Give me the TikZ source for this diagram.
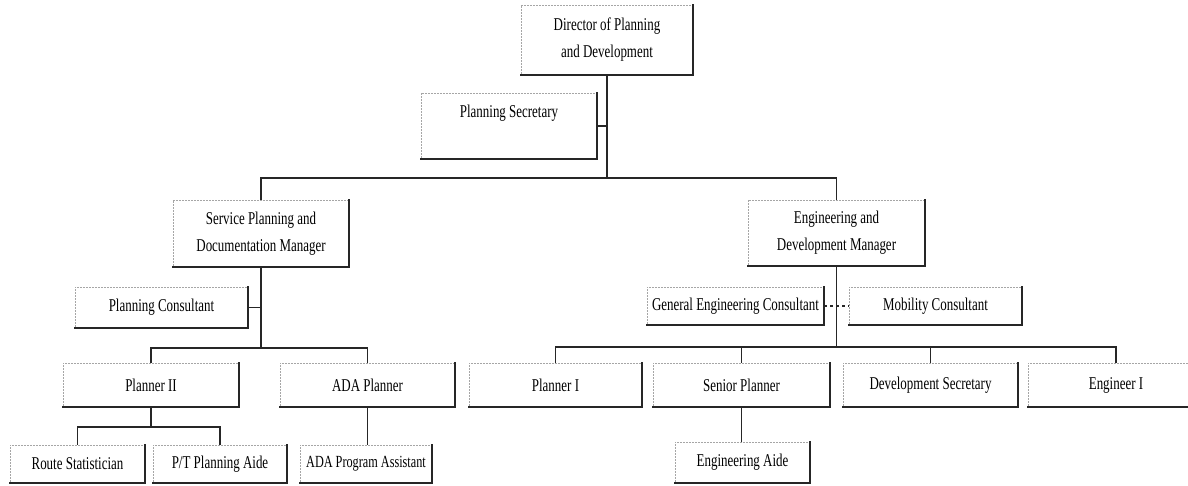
\documentclass[tikz,border=0pt]{standalone}
\usepackage{fontspec}
\setmainfont{Liberation Serif}[FakeStretch=0.72]
\begin{document}
\begin{tikzpicture}[x=1pt,y=-1pt,
  box/.style={draw=none, inner sep=0pt, align=center,
    font=\fontsize{18}{27}\selectfont},
  conn/.style={line width=1.3pt, black!85},
  rim/.style={line width=2.2pt, black!85, line cap=rect},
  faint/.style={line width=0.5pt, densely dotted, black!35}]
\useasboundingbox (0,0) rectangle (1188,485);
\clip (0,0) rectangle (1188,485);

% top level
\node[box, minimum width=172, minimum height=70] (dir) at (607,40) {Director of Planning\\and Development};
\node[box, minimum width=176, minimum height=66, text height=12pt, text depth=30pt] (sec) at (509,126) {Planning Secretary};

% managers
\node[box, minimum width=176, minimum height=67] (spm) at (261,233.5) {Service Planning and\\Documentation Manager};
\node[box, minimum width=177, minimum height=66] (edm) at (836.5,233) {Engineering and\\Development Manager};

% consultants
\node[box, minimum width=173, minimum height=41] (pc)  at (161.5,307.5) {Planning Consultant};
\node[box, minimum width=177, minimum height=38] (gec) at (735.5,306) {General Engineering Consultant};
\node[box, minimum width=173, minimum height=38] (mob) at (935.5,306) {Mobility Consultant};

% planners
\node[box, minimum width=176, minimum height=44] (p2)  at (151,385)   {Planner II};
\node[box, minimum width=175, minimum height=44] (ada) at (367.5,385) {ADA Planner};
\node[box, minimum width=173, minimum height=44] (p1)  at (555.5,385) {Planner I};
\node[box, minimum width=177, minimum height=44] (sp)  at (741.5,385) {Senior Planner};
\node[box, minimum width=175, minimum height=44] (ds)  at (930.5,385) {Development Secretary};
\node[box, minimum width=176, minimum height=44] (e1)  at (1116,385)  {Engineer I};

% bottom row
\node[box, minimum width=135, minimum height=38] (rs)   at (77.5,464)  {Route Statistician};
\node[box, minimum width=134, minimum height=38] (pt)   at (220,464)   {P/T Planning Aide};
\node[box, minimum width=132, minimum height=38, font=\fontsize{17}{27}\selectfont] (adap) at (366,464) {ADA Program Assistant};
\node[box, minimum width=135, minimum height=41] (ea)   at (742.5,462.5) {Engineering Aide};

% box outlines: heavy right and bottom edges, faint top and left edges
\foreach \n in {dir,sec,spm,edm,pc,gec,mob,p2,ada,p1,sp,ds,e1,rs,pt,adap,ea}{
  \draw[faint] (\n.south west) -- (\n.north west) -- (\n.north east);
  \draw[rim] (\n.north east) -- (\n.south east) -- (\n.south west);
}

% junction points
\coordinate (j1) at (607,178);
\coordinate (j2) at (261,348);
\coordinate (j3) at (151,427);
\coordinate (j4) at (836.5,347);

% director branch
\draw[conn] (dir.south) -- (j1);
\draw[conn] (spm.north) |- (j1) -| (edm.north);
\draw[conn] (sec.east) -- (sec.east -| j1);

% service planning branch
\draw[conn] (spm.south) -- (j2);
\draw[conn] (pc.east) -- (pc.east -| j2);
\draw[conn] (p2.north) |- (j2) -| (ada.north);
\draw[conn] (p2.south) -- (j3);
\draw[conn] (rs.north) |- (j3) -| (pt.north);
\draw[conn] (ada.south) -- (ada.south |- adap.north);

% engineering branch
\draw[conn] (edm.south) -- (j4);
\draw[conn, dashed] (gec.east) -- (mob.west);
\draw[conn] (p1.north) |- (j4) -| (e1.north);
\draw[conn] (sp.north) -- (sp.north |- j4);
\draw[conn] (ds.north) -- (ds.north |- j4);
\draw[conn] (sp.south) -- (sp.south |- ea.north);
\end{tikzpicture}
\end{document}
